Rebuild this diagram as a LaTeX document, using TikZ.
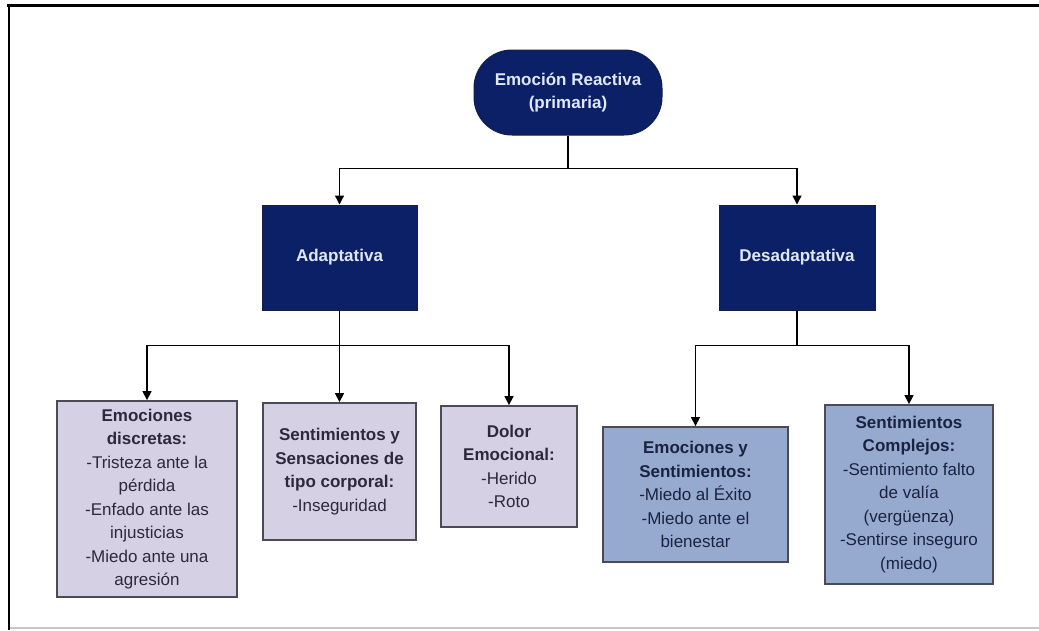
\documentclass[tikz,border=0pt]{standalone}
\usepackage{fontspec}
\setmainfont{Liberation Sans}
\usetikzlibrary{arrows.meta}
\definecolor{navy}{RGB}{12,32,104}
\definecolor{navyedge}{RGB}{20,30,70}
\definecolor{lighttext}{RGB}{222,232,250}
\definecolor{lav}{RGB}{214,208,229}
\definecolor{bluefill}{RGB}{150,170,208}
\definecolor{boxborder}{RGB}{75,75,85}
\definecolor{darktext}{RGB}{45,40,60}
\definecolor{bluetext}{RGB}{25,35,65}
\definecolor{framegrey}{RGB}{200,200,200}
\begin{document}
\begin{tikzpicture}[x=1pt,y=-1pt,
  every node/.style={font=\fontsize{17}{23.5}\selectfont, align=center, inner sep=0pt},
  navybox/.style={fill=navy, draw=navyedge, line width=1pt, text=lighttext,
    font=\fontsize{17}{23.5}\selectfont\bfseries},
  lavbox/.style={fill=lav, draw=boxborder, line width=1.8pt, text=darktext},
  bluebox/.style={fill=bluefill, draw=boxborder, line width=1.8pt, text=bluetext},
  conn/.style={draw=black, line width=1.3pt},
  arr/.style={conn, -{Triangle[length=9pt,width=9pt]}}]
\useasboundingbox[fill=white] (0,0) rectangle (1039,630);
% frame
\draw[line width=3pt] (7,5) -- (1039,5);
\draw[line width=2.5pt] (9,5) -- (9,630);
\draw[framegrey, line width=1.5pt] (10,628) -- (1039,628);
% nodes
\node[navybox, rounded corners=38pt, minimum width=188pt, minimum height=85pt] (root) at (568,92.5)
  {Emoción Reactiva\\(primaria)};
\node[navybox, minimum width=155pt, minimum height=105pt] (adapt) at (339.5,257.5) {Adaptativa};
\node[navybox, minimum width=156pt, minimum height=105pt] (desadapt) at (797,257.5) {Desadaptativa};
\node[lavbox, minimum width=180pt, minimum height=196pt] (b1) at (147,499)
  {\textbf{Emociones}\\\textbf{discretas:}\\-Tristeza ante la\\pérdida\\-Enfado ante las\\injusticias\\-Miedo ante una\\agresión};
\node[lavbox, minimum width=153pt, minimum height=137pt] (b2) at (339.5,471.5)
  {\textbf{Sentimientos y}\\\textbf{Sensaciones de}\\\textbf{tipo corporal:}\\-Inseguridad};
\node[lavbox, minimum width=136pt, minimum height=121pt] (b3) at (509,466.5)
  {\textbf{Dolor}\\\textbf{Emocional:}\\-Herido\\-Roto};
\node[bluebox, minimum width=185pt, minimum height=135pt] (b4) at (695.5,494.5)
  {\textbf{Emociones y}\\\textbf{Sentimientos:}\\-Miedo al Éxito\\-Miedo ante el\\bienestar};
\node[bluebox, minimum width=168pt, minimum height=179pt] (b5) at (909,494.5)
  {\textbf{Sentimientos}\\\textbf{Complejos:}\\-Sentimiento falto\\de valía\\(vergüenza)\\-Sentirse inseguro\\(miedo)};
% connectors
\draw[conn] (root.south) -- ++(0,33) coordinate (j1);
\draw[arr] (j1) -| (adapt.north);
\draw[arr] (j1) -| (desadapt.north);
\draw[conn] (adapt.south) -- ++(0,35) coordinate (j2);
\draw[arr] (j2) -| (b1.north);
\draw[arr] (j2) -- (b2.north);
\draw[arr] (j2) -| (b3.north);
\draw[conn] (desadapt.south) -- ++(0,35) coordinate (j3);
\draw[arr] (j3) -| (b4.north);
\draw[arr] (j3) -| (b5.north);
\end{tikzpicture}
\end{document}
